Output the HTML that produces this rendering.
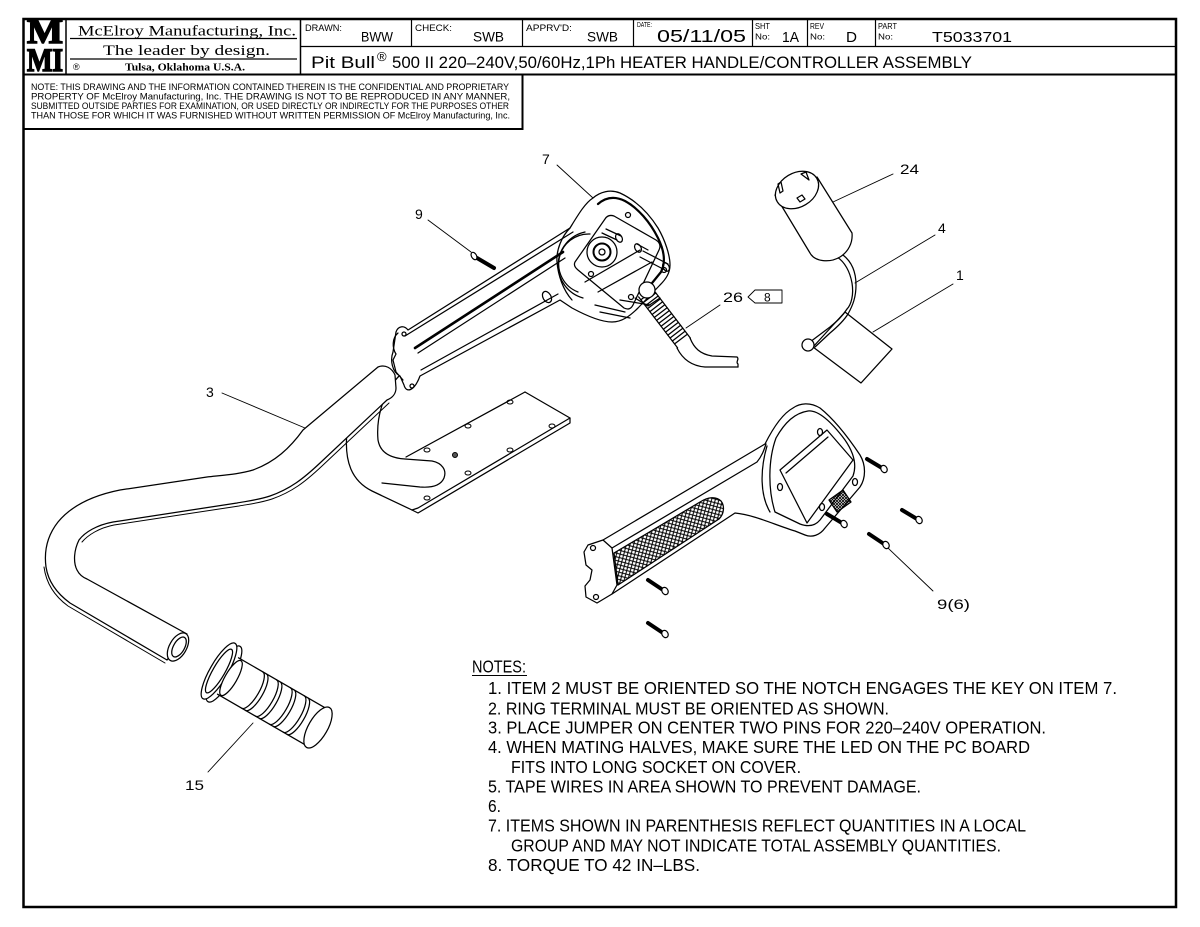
<!DOCTYPE html>
<html>
<head>
<meta charset="utf-8">
<style>
html,body{margin:0;padding:0;background:#fff;}
svg{display:block;}
text{font-family:"Liberation Sans",sans-serif;fill:#000;}
.serif{font-family:"Liberation Serif",serif;}
</style>
</head>
<body>
<svg width="1200" height="927" viewBox="0 0 1200 927" xmlns="http://www.w3.org/2000/svg">
<defs>
<pattern id="knurl" patternUnits="userSpaceOnUse" width="5" height="5" patternTransform="rotate(-30)">
<rect width="5" height="5" fill="#fff"/>
<path d="M0,0 L5,5 M5,0 L0,5" stroke="#000" stroke-width="1"/>
</pattern>
<pattern id="hatch" patternUnits="userSpaceOnUse" width="3" height="3">
<path d="M0,0 L3,3 M3,0 L0,3" stroke="#000" stroke-width="0.8"/>
</pattern>
</defs>
<rect x="0" y="0" width="1200" height="927" fill="#fff"/>

<!-- ===== BORDER & TITLE BLOCK ===== -->
<g stroke="#000" fill="none">
<rect x="23.5" y="19" width="1152.5" height="888" stroke-width="2.5"/>
<line x1="23" y1="74.5" x2="1176" y2="74.5" stroke-width="2"/>
<line x1="300" y1="46.5" x2="1176" y2="46.5" stroke-width="1.3"/>
<line x1="66" y1="19" x2="66" y2="74.5" stroke-width="1.5"/>
<line x1="300.5" y1="19" x2="300.5" y2="74.5" stroke-width="1.5"/>
<line x1="411.5" y1="19" x2="411.5" y2="46.5" stroke-width="1.2"/>
<line x1="522.5" y1="19" x2="522.5" y2="46.5" stroke-width="1.2"/>
<line x1="633.5" y1="19" x2="633.5" y2="46.5" stroke-width="1.2"/>
<line x1="752.5" y1="19" x2="752.5" y2="46.5" stroke-width="1.2"/>
<line x1="807.5" y1="19" x2="807.5" y2="46.5" stroke-width="1.2"/>
<line x1="875.5" y1="19" x2="875.5" y2="46.5" stroke-width="1.2"/>
<line x1="70" y1="38.5" x2="297" y2="38.5" stroke-width="1.2"/>
<line x1="70" y1="59" x2="297" y2="59" stroke-width="1.2"/>
<polyline points="23.5,129 522.5,129 522.5,74.5" stroke-width="2"/>
</g>

<!-- logo -->
<text class="serif" x="27" y="43" font-size="35" font-weight="bold" textLength="36" lengthAdjust="spacingAndGlyphs" stroke="#000" stroke-width="1.6">M</text>
<text class="serif" x="27" y="71" font-size="33" font-weight="bold" textLength="36" lengthAdjust="spacingAndGlyphs" stroke="#000" stroke-width="1.6">MI</text>

<text class="serif" x="78" y="35.5" font-size="15" textLength="218" lengthAdjust="spacingAndGlyphs">McElroy Manufacturing, Inc.</text>
<text class="serif" x="103" y="55" font-size="15" textLength="167" lengthAdjust="spacingAndGlyphs">The leader by design.</text>
<text x="73" y="70" font-size="9">®</text>
<text class="serif" x="125" y="70.5" font-size="10.5" font-weight="bold" textLength="120" lengthAdjust="spacingAndGlyphs">Tulsa, Oklahoma U.S.A.</text>

<text x="305" y="31" font-size="9" textLength="37" lengthAdjust="spacingAndGlyphs">DRAWN:</text>
<text x="361" y="41.5" font-size="13.5" textLength="32" lengthAdjust="spacingAndGlyphs">BWW</text>
<text x="415" y="31" font-size="9" textLength="37" lengthAdjust="spacingAndGlyphs">CHECK:</text>
<text x="473" y="41.5" font-size="13.5" textLength="31" lengthAdjust="spacingAndGlyphs">SWB</text>
<text x="526" y="31" font-size="9" textLength="46" lengthAdjust="spacingAndGlyphs">APPRV'D:</text>
<text x="587" y="41.5" font-size="13.5" textLength="31" lengthAdjust="spacingAndGlyphs">SWB</text>
<text x="637" y="27" font-size="7" textLength="15" lengthAdjust="spacingAndGlyphs">DATE:</text>
<text x="657" y="42" font-size="17.5" textLength="89" lengthAdjust="spacingAndGlyphs">05/11/05</text>
<text x="755" y="29" font-size="8.5" textLength="15" lengthAdjust="spacingAndGlyphs">SHT</text>
<text x="755" y="39.5" font-size="8.5" textLength="15" lengthAdjust="spacingAndGlyphs">No:</text>
<text x="782" y="42" font-size="14.5" textLength="17" lengthAdjust="spacingAndGlyphs">1A</text>
<text x="810" y="29" font-size="8.5" textLength="14" lengthAdjust="spacingAndGlyphs">REV</text>
<text x="810" y="39.5" font-size="8.5" textLength="15" lengthAdjust="spacingAndGlyphs">No:</text>
<text x="846" y="42" font-size="14.5" textLength="11" lengthAdjust="spacingAndGlyphs">D</text>
<text x="878" y="29" font-size="8.5" textLength="19" lengthAdjust="spacingAndGlyphs">PART</text>
<text x="878" y="39.5" font-size="8.5" textLength="15" lengthAdjust="spacingAndGlyphs">No:</text>
<text x="932" y="42" font-size="15" textLength="80" lengthAdjust="spacingAndGlyphs">T5033701</text>

<text x="311" y="68" font-size="16.5" textLength="64" lengthAdjust="spacingAndGlyphs">Pit Bull</text>
<text x="377" y="61" font-size="13">®</text>
<text x="392" y="68" font-size="16.5" textLength="580" lengthAdjust="spacingAndGlyphs">500 II 220–240V,50/60Hz,1Ph HEATER HANDLE/CONTROLLER ASSEMBLY</text>

<g font-size="9">
<text x="31" y="90" textLength="478" lengthAdjust="spacingAndGlyphs">NOTE: THIS DRAWING AND THE INFORMATION CONTAINED THEREIN IS THE CONFIDENTIAL AND PROPRIETARY</text>
<text x="31" y="99.5" textLength="479" lengthAdjust="spacingAndGlyphs">PROPERTY OF McElroy Manufacturing, Inc. THE DRAWING IS NOT TO BE REPRODUCED IN ANY MANNER,</text>
<text x="31" y="109" textLength="478" lengthAdjust="spacingAndGlyphs">SUBMITTED OUTSIDE PARTIES FOR EXAMINATION, OR USED DIRECTLY OR INDIRECTLY FOR THE PURPOSES OTHER</text>
<text x="31" y="118.5" textLength="479" lengthAdjust="spacingAndGlyphs">THAN THOSE FOR WHICH IT WAS FURNISHED WITHOUT WRITTEN PERMISSION OF McElroy Manufacturing, Inc.</text>
</g>

<!-- ===== DRAWING ===== -->
<g stroke="#000" fill="none" stroke-width="1.25" stroke-linejoin="round" stroke-linecap="round">

<!-- plate + bracket (behind tube) -->
<path d="M525,392 L570,418 L570,423 L418,513 L412,510 L372,491 C352,481 344,462 347,432" fill="#fff"/>
<path d="M525,392 L406,457"/>
<path d="M570,418 L418,508 L412,510"/>
<path d="M400,375 C383,392 376,418 378,440 C380,452 390,458 405,459 L432,461 C442,463 447,470 444,478 C441,485 433,488 420,487 L382,483"/>
<g stroke-width="1">
<ellipse cx="510" cy="402" rx="3" ry="2"/>
<ellipse cx="468" cy="426" rx="3" ry="2"/>
<ellipse cx="552" cy="426" rx="3" ry="2"/>
<ellipse cx="427" cy="450" rx="3" ry="2"/>
<ellipse cx="510" cy="450" rx="3" ry="2"/>
<ellipse cx="455" cy="455" rx="2.5" ry="2.5" fill="#555"/>
<ellipse cx="468" cy="473" rx="3" ry="2"/>
<ellipse cx="427" cy="498" rx="3" ry="2"/>
</g>

<!-- tube item 3 -->
<path d="M378,367 L303,430 C290,448 275,462 253,470 C240,474 225,475 207,477 L120,490 C95,495 72,505 58,522 C47,536 44,552 46,567 C48,580 55,592 70,603 L167,660 L187,634 L87,579 C82,577 79,574 77,570 C73,562 74,550 79,540 C85,532 97,525 113,522 L237,503 C248,501 258,500 270,496 C290,489 303,479 320,463 L387,400 C392,398 396,394 396,388 L395,375 C392,368 385,364 378,367 Z" fill="#fff"/>
<path d="M389,403 L322,466 C305,482 292,492 272,499 C260,503 250,504 239,506 L114,525 C99,528 88,535 82,542" stroke-width="1"/>
<path d="M44,567 C46,582 53,595 68,606 L165,663" stroke-width="1"/>
<ellipse cx="178" cy="647" rx="8.5" ry="15.5" transform="rotate(30 178 647)" fill="#fff"/>
<ellipse cx="179" cy="647" rx="5.5" ry="11" transform="rotate(30 179 647)"/>

<!-- grip item 15 -->
<ellipse cx="224" cy="674" rx="9" ry="32" transform="rotate(30 224 674)" fill="#fff"/>
<ellipse cx="219" cy="671" rx="9" ry="32" transform="rotate(30 219 671)" fill="#fff"/>
<ellipse cx="219" cy="671" rx="6" ry="25" transform="rotate(30 219 671)"/>
<path d="M238.5,657.8 L327.7,709.3 L306.7,745.7 L217.5,694.2 Z" fill="#fff" stroke="none"/>
<path d="M238.5,657.8 L327.7,709.3 M217.5,694.2 L306.7,745.7"/>
<ellipse cx="231" cy="678" rx="6" ry="20" transform="rotate(30 231 678)" fill="#fff"/>
<g>
<path d="M262.7,671.8 A7,21 30 0 1 241.7,708.2"/>
<path d="M266.7,674.2 A7,21 30 0 1 245.7,710.5"/>
<path d="M276.6,679.8 A7,21 30 0 1 255.6,716.2"/>
<path d="M280.6,682.2 A7,21 30 0 1 259.6,718.5"/>
<path d="M290.5,687.8 A7,21 30 0 1 269.5,724.2"/>
<path d="M294.5,690.2 A7,21 30 0 1 273.5,726.5"/>
<path d="M304.3,695.8 A7,21 30 0 1 283.3,732.2"/>
<path d="M308.3,698.2 A7,21 30 0 1 287.3,734.5"/>
</g>
<ellipse cx="318" cy="727.5" rx="9.5" ry="23" transform="rotate(30 318 727.5)" fill="#fff"/>

<!-- heater handle item 7 -->
<path d="M396,332 C398,326 404,325 408,330 L570,228 C578,215 585,203 593,198 C600,192 610,189 620,193 C635,200 648,212 658,228 C665,240 670,255 670,265 C670,273 666,279 660,285 L638,308 C630,316 622,322 612,322 C600,322 585,315 572,308 L560,300 L420,376 C414,392 406,393 404,385 L400,376 C392,372 390,360 393,352 Z" fill="#fff"/>
<path d="M405,336 L573,232"/>
<path d="M415,348 L563,252" stroke-width="2.6"/>
<path d="M418,353 L565,258"/>
<path d="M421,370 L558,294"/>
<path d="M398,333 C392,338 392,348 396,354 L393,360 L396,372 L403,380"/>
<circle cx="404" cy="334" r="2"/>
<circle cx="412" cy="386" r="2"/>
<ellipse cx="547" cy="297" rx="4" ry="6" transform="rotate(-30 547 297)"/>
<path d="M570,228 C562,236 556,250 557,262 C558,275 563,290 572,300"/>
<path d="M598,204 C606,197 615,196 625,201 C638,208 650,222 658,238 C664,250 666,262 661,272 L648,288" stroke-width="2.2"/>
<path d="M575,262 L605,219 Q608,214 614,216 L656,240 Q662,244 659,250 L633,305 Q630,311 624,308 L578,270 Q573,266 575,262 Z"/>
<path d="M578,292 A30,30 0 0 1 590,234"/>
<path d="M583,298 A34,34 0 0 1 585,232"/>
<path d="M585,282 L640,250 M598,292 L652,262"/>
<circle cx="602" cy="252" r="15" fill="#fff"/>
<circle cx="602" cy="252" r="8.5" stroke-width="2"/>
<circle cx="602" cy="252" r="3"/>
<path d="M602,233 L617,240 M606,229 L621,236"/>
<ellipse cx="619" cy="238" rx="3" ry="4.5" transform="rotate(-30 619 238)"/>
<path d="M637,244 L648,250 M640,257 L665,270 M643,251 L668,264"/>
<ellipse cx="666" cy="267" rx="3" ry="4.5" transform="rotate(-30 666 267)"/>
<ellipse cx="638" cy="248" rx="3" ry="4.5" transform="rotate(-30 638 248)"/>
<circle cx="628" cy="215" r="2.5"/>
<circle cx="664" cy="270" r="2.5"/>
<circle cx="591" cy="274" r="2.5"/>
<circle cx="631" cy="297" r="2.5"/>
<path d="M600,312 L630,318 M595,305 L625,312 M620,300 L650,305"/>

<!-- coil / cable -->
<path d="M638.6,296.9 L677.6,347.9 M651.4,287.1 L690.4,338.1"/>
<path d="M640.9,299.8 L653.6,290.1 M643.1,302.7 L655.8,293 M645.4,305.7 L658.1,296 M647.6,308.6 L660.3,298.9 M649.9,311.6 L662.6,301.8 M652.1,314.5 L664.8,304.8 M654.4,317.4 L667.1,307.7 M656.6,320.4 L669.3,310.6 M658.9,323.3 L671.6,313.6 M661.1,326.2 L673.8,316.5 M663.4,329.2 L676.1,319.5 M665.6,332.1 L678.3,322.4 M667.9,335.1 L680.6,325.3 M670.1,338 L682.8,328.3 M672.4,341 L685,331.3 M674.6,343.9 L687.3,334.2"/>
<path d="M690,338 C694,348 700,354 712,356 L737,357"/>
<path d="M677,348 C683,360 692,366 705,367 L738,367"/>
<path d="M737,357 C740,359 735,362 738,364 L738,367"/>
<circle cx="647" cy="290" r="8" fill="#fff"/>
<path d="M635,298 L648,306 L660,298" />

<!-- screw 9 top -->
<line x1="477" y1="258" x2="494" y2="268" stroke-width="4"/>
<ellipse cx="474" cy="256" rx="2.5" ry="4" transform="rotate(-30 474 256)" fill="#fff" stroke-width="1.2"/>

<!-- second handle half -->
<path d="M603,540 L765,444 C772,430 782,414 793,408 C800,403 810,402 820,408 C835,420 850,440 860,455 C866,465 866,478 860,487 L825,528 C820,535 812,538 805,535 L795,531 C775,525 755,515 735,513 L612,594 L597,603 L586,597 L585,586 L590,580 L592,570 L586,565 L584,552 L588,545 Z" fill="#fff"/>
<path d="M612,548 L757,462 C762,456 764,450 766,444"/>
<path d="M776,438 C785,422 795,413 808,411 C818,410 830,420 845,440 C854,453 857,465 853,476 L820,520 C815,526 808,527 800,524 L775,512 C768,490 768,460 776,438 Z"/>
<path d="M767,446 C760,470 760,495 770,512"/>
<path d="M603,540 L612,548 L617,585 L612,594"/>
<circle cx="593" cy="548" r="2.5"/>
<circle cx="596" cy="597" r="2.5"/>
<path d="M614,553 L700,502 C708,497 716,496 721,501 C725,506 724,514 719,519 L618,585 Z" fill="url(#knurl)"/>
<path d="M780,470 L827,430 L853,460 L807,523 Z"/>
<path d="M786,473 L828,437"/>
<ellipse cx="820" cy="432" rx="2.5" ry="3.5"/>
<ellipse cx="780" cy="487" rx="2.5" ry="3.5"/>
<ellipse cx="855" cy="482" rx="2.5" ry="3.5"/>
<ellipse cx="822" cy="507" rx="2.5" ry="3.5"/>
<path d="M829,500 L843,490 L851,502 L837,512 Z" fill="url(#hatch)"/>

<!-- six screws -->
<g>
<line x1="867" y1="459" x2="882" y2="468" stroke-width="4"/>
<ellipse cx="884" cy="469" rx="3" ry="3.8" transform="rotate(-30 884 469)" fill="#fff" stroke-width="1.2"/>
<line x1="902" y1="510" x2="917" y2="519" stroke-width="4"/>
<ellipse cx="919" cy="520" rx="3" ry="3.8" transform="rotate(-30 919 520)" fill="#fff" stroke-width="1.2"/>
<line x1="869" y1="534" x2="884" y2="544" stroke-width="4"/>
<ellipse cx="886" cy="545" rx="3" ry="3.8" transform="rotate(-30 886 545)" fill="#fff" stroke-width="1.2"/>
<line x1="827" y1="514" x2="842" y2="523" stroke-width="4"/>
<ellipse cx="844" cy="524" rx="3" ry="3.8" transform="rotate(-30 844 524)" fill="#fff" stroke-width="1.2"/>
<line x1="648" y1="580" x2="663" y2="590" stroke-width="4"/>
<ellipse cx="665" cy="591" rx="3" ry="3.8" transform="rotate(-30 665 591)" fill="#fff" stroke-width="1.2"/>
<line x1="648" y1="623" x2="663" y2="633" stroke-width="4"/>
<ellipse cx="665" cy="634" rx="3" ry="3.8" transform="rotate(-30 665 634)" fill="#fff" stroke-width="1.2"/>
</g>

<!-- item 1 -->
<path d="M845,312 L892,349 L861,383 L813,347 Z" fill="#fff"/>
<!-- item 4 -->
<path d="M837,257 C845,262 850,272 852,283 C854,295 851,305 847,309 C842,317 836,322 830,327 L810,342"/>
<path d="M843,255 C852,262 856,272 856,285 C856,297 853,305 848,314 C843,322 836,328 830,333 L815,347"/>
<circle cx="808" cy="345" r="6" fill="#fff"/>
<!-- item 24 -->
<path d="M775,195 L810,253 C815,262 830,263 840,257 C848,252 853,243 852,233 L817,177" fill="#fff"/>
<ellipse cx="797" cy="190" rx="23" ry="17" transform="rotate(-31 797 190)" fill="#fff"/>
<path d="M778,184 L781,182 L783,191 L780,193 Z"/>
<path d="M801,174 L806,172 L809,180 Z"/>
<path d="M797,198 L802,195 L805,199 L800,202 Z"/>

<!-- leaders -->
<g stroke-width="0.9">
<line x1="557" y1="165" x2="593" y2="198"/>
<line x1="428" y1="220" x2="471" y2="252"/>
<line x1="720" y1="305" x2="686" y2="328"/>
<line x1="893" y1="174" x2="833" y2="202"/>
<line x1="935" y1="235" x2="855" y2="283"/>
<line x1="953" y1="284" x2="873" y2="332"/>
<line x1="222" y1="393" x2="305" y2="428"/>
<line x1="208" y1="772" x2="253" y2="723"/>
<line x1="933" y1="591" x2="888" y2="548"/>
<path d="M748,297 L755,290 L782,290 L782,303 L755,303 Z"/>
</g>
</g>

<!-- item labels -->
<g font-size="14">
<text x="542" y="164">7</text>
<text x="415" y="219">9</text>
<text x="723" y="302" textLength="20" lengthAdjust="spacingAndGlyphs">26</text>
<text x="764" y="301.5" font-size="12">8</text>
<text x="900" y="174" textLength="19" lengthAdjust="spacingAndGlyphs">24</text>
<text x="938" y="233">4</text>
<text x="956" y="280">1</text>
<text x="206" y="397">3</text>
<text x="185" y="790" textLength="19" lengthAdjust="spacingAndGlyphs">15</text>
<text x="937" y="609" textLength="33" lengthAdjust="spacingAndGlyphs">9(6)</text>
</g>

<!-- notes -->
<g font-size="17.5">
<text x="472" y="672.5" textLength="54" lengthAdjust="spacingAndGlyphs">NOTES:</text>
<line x1="472" y1="675.5" x2="527" y2="675.5" stroke="#000" stroke-width="1"/>
<text x="488" y="694" textLength="629" lengthAdjust="spacingAndGlyphs">1. ITEM 2 MUST BE ORIENTED SO THE NOTCH ENGAGES THE KEY ON ITEM 7.</text>
<text x="488" y="714.5" textLength="401" lengthAdjust="spacingAndGlyphs">2. RING TERMINAL MUST BE ORIENTED AS SHOWN.</text>
<text x="488" y="733.5" textLength="558" lengthAdjust="spacingAndGlyphs">3. PLACE JUMPER ON CENTER TWO PINS FOR 220–240V OPERATION.</text>
<text x="488" y="753" textLength="542" lengthAdjust="spacingAndGlyphs">4. WHEN MATING HALVES, MAKE SURE THE LED ON THE PC BOARD</text>
<text x="511" y="773" textLength="290" lengthAdjust="spacingAndGlyphs">FITS INTO LONG SOCKET ON COVER.</text>
<text x="488" y="792.5" textLength="433" lengthAdjust="spacingAndGlyphs">5. TAPE WIRES IN AREA SHOWN TO PREVENT DAMAGE.</text>
<text x="488" y="812" textLength="13" lengthAdjust="spacingAndGlyphs">6.</text>
<text x="488" y="831.5" textLength="538" lengthAdjust="spacingAndGlyphs">7. ITEMS SHOWN IN PARENTHESIS REFLECT QUANTITIES IN A LOCAL</text>
<text x="511" y="851.5" textLength="490" lengthAdjust="spacingAndGlyphs">GROUP AND MAY NOT INDICATE TOTAL ASSEMBLY QUANTITIES.</text>
<text x="488" y="871" textLength="212" lengthAdjust="spacingAndGlyphs">8. TORQUE TO 42 IN–LBS.</text>
</g>
</svg>
</body>
</html>
